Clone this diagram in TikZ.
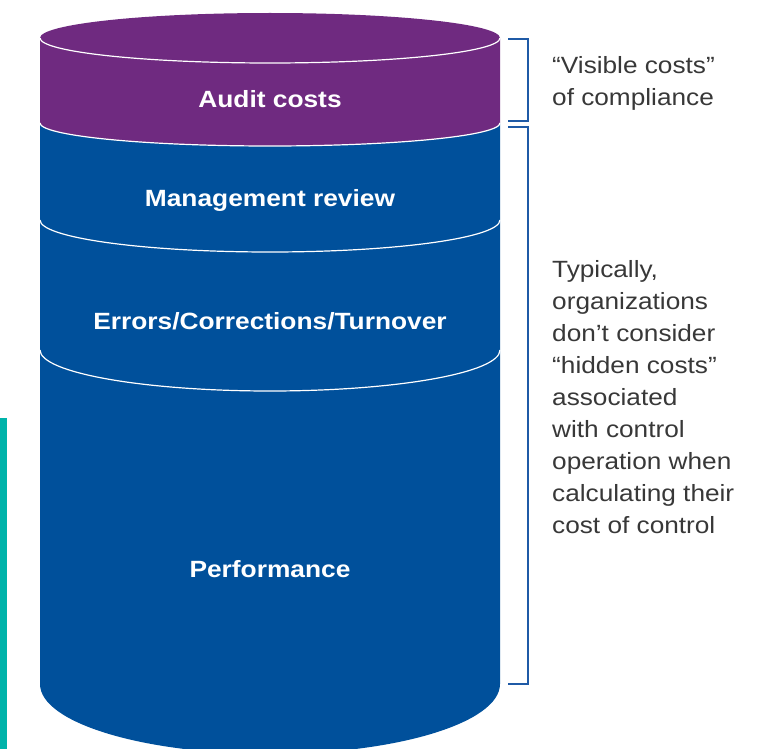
\documentclass[tikz,border=0pt]{standalone}
\usepackage{fontspec}
\setmainfont{Liberation Sans}
\newfontfamily\labfont[FakeStretch=1.12]{Liberation Sans}
\newfontfamily\notefont[FakeStretch=1.115]{Liberation Sans}
\definecolor{cylpurple}{HTML}{6F2A80}
\definecolor{cylblue}{HTML}{00509B}
\definecolor{brkblue}{HTML}{1F5AA6}
\definecolor{barteal}{HTML}{00B3AA}
\definecolor{notegray}{HTML}{383838}
\begin{document}
\begin{tikzpicture}[x=1pt,y=1pt,
  divider/.style={draw=white,line width=1.2pt},
  bracket/.style={draw=brkblue,line width=2.6pt,line join=miter},
  labeltext/.style={font=\labfont\bfseries\fontsize{23.5}{28}\selectfont,text=white,anchor=base,inner sep=0pt},
  notetext/.style={font=\notefont\fontsize{23.5}{32}\selectfont,text=notegray,anchor=base west,inner sep=0pt}]
\useasboundingbox (0,0) rectangle (776,-749);
\clip (0,0) rectangle (776,-749);
% teal bar
\fill[barteal] (0,-418) rectangle (7,-749);
% blue body
\fill[cylblue] (40,-123) -- (40,-684)
  arc[start angle=180,end angle=360,x radius=230,y radius=70]
  -- (500,-123)
  arc[start angle=360,end angle=180,x radius=230,y radius=23] -- cycle;
% purple top section
\fill[cylpurple] (40,-38) -- (40,-123)
  arc[start angle=180,end angle=360,x radius=230,y radius=23]
  -- (500,-38)
  arc[start angle=0,end angle=180,x radius=230,y radius=25] -- cycle;
% white rim lines
\draw[divider] (40,-38) arc[start angle=180,end angle=360,x radius=230,y radius=25];
\draw[divider] (40,-123) arc[start angle=180,end angle=360,x radius=230,y radius=23];
\draw[divider] (40,-220) arc[start angle=180,end angle=360,x radius=230,y radius=32];
\draw[divider] (40,-350) arc[start angle=180,end angle=360,x radius=230,y radius=41];
% labels
\node[labeltext] (audit) at (270,-108) {Audit costs};
\node[labeltext] (mgmt) at (270,-206) {Management review};
\node[labeltext] (errors) at (270,-329) {Errors/Corrections/Turnover};
\node[labeltext] (perf) at (270,-577) {Performance};
% brackets
\coordinate (b1a) at (508,-39);
\coordinate (b1b) at (508,-121);
\coordinate (b2a) at (508,-127);
\coordinate (b2b) at (508,-684);
\draw[bracket] (b1a) -- ++(20,0) |- (b1b);
\draw[bracket] (b2a) -- ++(20,0) |- (b2b);
% notes
\foreach \t [count=\i from 0] in {{“Visible costs”},{of compliance}}
  \node[notetext] (vis\i) at (552,{-74-32*\i}) {\t};
\foreach \t [count=\i from 0] in {{Typically,},{organizations},{don’t consider},{“hidden costs”},{associated},{with control},{operation when},{calculating their},{cost of control}}
  \node[notetext] (hid\i) at (552,{-277-32*\i}) {\t};
\end{tikzpicture}
\end{document}
